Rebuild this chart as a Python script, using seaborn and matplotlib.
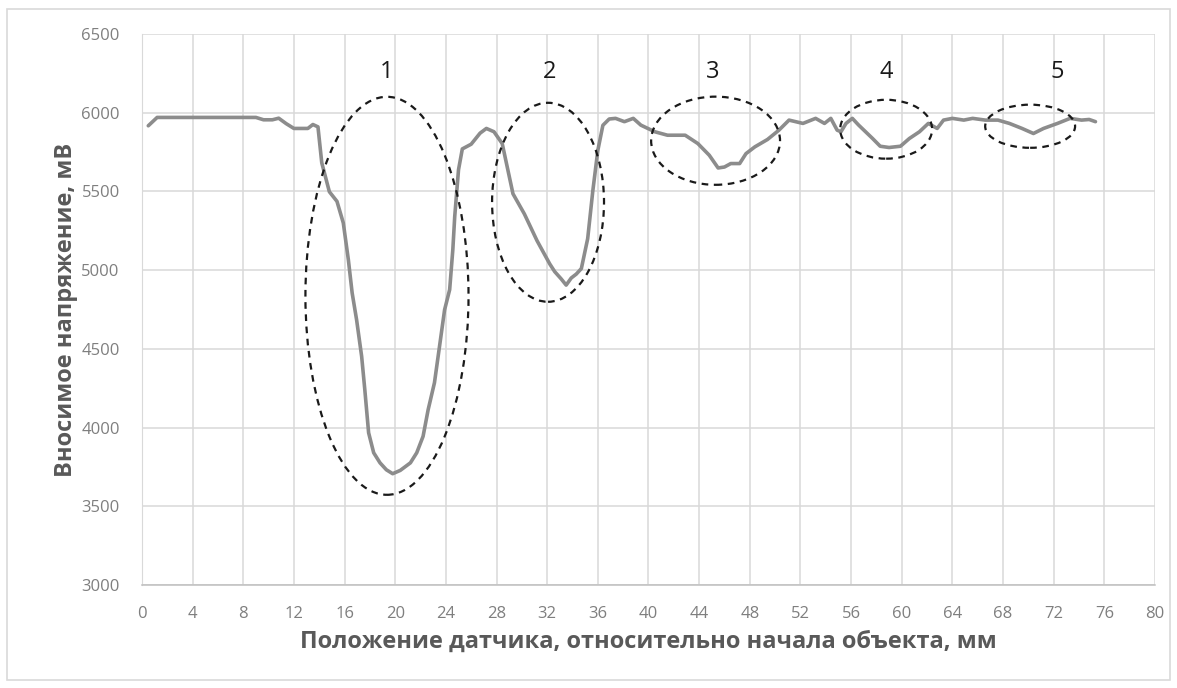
import numpy as np
import matplotlib
import seaborn as sns
import matplotlib.pyplot as plt
from matplotlib.patches import Ellipse, Rectangle
from matplotlib.ticker import MultipleLocator

matplotlib.use('Agg')

# положение датчика, мм
pos = [0.5, 1.2, 2, 4, 6, 8, 9.0, 9.6, 10.3, 10.8, 11.4, 12.0, 12.6, 13.1, 13.5,
       13.9, 14.2, 14.8, 15.4, 15.9, 16.3, 16.6, 16.95, 17.35, 17.6, 17.9, 18.3,
       18.8, 19.3, 19.8, 20.4, 21.2, 21.7, 22.2, 22.6, 23.1, 23.5, 23.9, 24.3,
       24.55, 24.7, 25.0, 25.3, 26.0, 26.7, 27.2, 27.8, 28.45, 29.3, 30.2, 31.2,
       32.2, 32.6, 33.1, 33.5, 33.9, 34.3, 34.7, 35.2, 35.6, 36.0, 36.4, 36.9,
       37.4, 38.1, 38.8, 39.4, 40.5, 41.5, 42.9, 43.9, 44.8, 45.5, 46.0, 46.5,
       47.2, 47.7, 48.4, 49.4, 50.3, 51.1, 52.2, 53.2, 53.9, 54.4, 54.9, 55.2,
       55.6, 56.1, 56.6, 57.7, 58.3, 59.0, 59.9, 60.6, 61.4, 62.1, 62.8, 63.3,
       64.0, 64.9, 65.6, 66.6, 67.6, 68.5, 69.5, 70.4, 71.2, 72.3, 73.3, 74.2,
       74.8, 75.3]
# вносимое напряжение, мВ
volt = [5917, 5970, 5970, 5970, 5970, 5970, 5970, 5955, 5955, 5965, 5930, 5900,
        5900, 5900, 5925, 5910, 5682, 5498, 5437, 5300, 5066, 4855, 4685, 4452,
        4240, 3967, 3840, 3776, 3732, 3707, 3728, 3776, 3840, 3944, 4113, 4285,
        4516, 4748, 4876, 5130, 5340, 5638, 5770, 5800, 5870, 5900, 5879, 5804,
        5485, 5357, 5187, 5040, 4990, 4945, 4905, 4950, 4975, 5010, 5200, 5500,
        5760, 5920, 5960, 5964, 5943, 5964, 5921, 5879, 5857, 5857, 5804, 5730,
        5649, 5655, 5677, 5677, 5740, 5783, 5830, 5889, 5953, 5932, 5964, 5932,
        5964, 5889, 5879, 5932, 5964, 5921, 5836, 5787, 5779, 5787, 5836, 5879,
        5932, 5900, 5953, 5964, 5953, 5964, 5953, 5953, 5932, 5900, 5868, 5900,
        5932, 5964, 5953, 5957, 5943]

# зоны дефектов: центр x, центр y, полуширина, полувысота
zone_x = [19.35, 32.07, 45.3, 58.77, 70.14]
zone_y = [4837, 5431, 5822, 5895, 5914]
zone_w = [6.44, 4.42, 5.09, 3.63, 3.55]
zone_h = [1264, 632, 280, 187, 137]
label_x = [19.35, 32.2, 45.1, 58.8, 72.3]
label_txt = ['1', '2', '3', '4', '5']

sns.set_style('white')
plt.rcParams['font.family'] = ['Open Sans', 'DejaVu Sans']

fig = plt.figure(figsize=(11.77, 6.88), dpi=100)
ax = fig.add_axes([0.1206, 0.1497, 0.8607, 0.8009])

sns.lineplot(x=pos, y=volt, ax=ax, color='#8c8c8c', linewidth=2.6, sort=False)

for cx, cy, w, h in zip(zone_x, zone_y, zone_w, zone_h):
    ax.add_patch(Ellipse((cx, cy), 2 * w, 2 * h, fill=False, edgecolor='#1a1a1a',
                         linestyle=(0, (3, 2.5)), linewidth=1.6, zorder=3))
for lx, t in zip(label_x, label_txt):
    ax.text(lx, 6260, t, ha='center', va='center', fontsize=17, color='#1a1a1a')

ax.set_xlim(0, 80)
ax.set_ylim(3000, 6500)
ax.xaxis.set_major_locator(MultipleLocator(4))
ax.xaxis.set_minor_locator(MultipleLocator(0.8))
ax.yaxis.set_major_locator(MultipleLocator(500))
ax.grid(True, which='major', color='#d9d9d9', linewidth=1.1)
ax.set_axisbelow(True)

for s in ['top', 'right']:
    ax.spines[s].set_visible(False)
ax.spines['left'].set_color('#d9d9d9')
ax.spines['bottom'].set_color('#bfbfbf')
ax.spines['bottom'].set_linewidth(1.1)

ax.tick_params(axis='x', which='major', direction='out', length=5, color='#bfbfbf',
               labelsize=12, labelcolor='#7f7f7f', pad=10)
ax.tick_params(axis='x', which='minor', direction='out', length=4, color='#bfbfbf')
ax.tick_params(axis='y', length=0, labelsize=12, labelcolor='#7f7f7f', pad=16)

ax.set_xlabel('Положение датчика, относительно начала объекта, мм', fontsize=17,
              fontweight='bold', color='#595959', labelpad=6)
ax.set_ylabel('Вносимое напряжение, мВ', fontsize=17, fontweight='bold',
              color='#595959', labelpad=2)

fig.patches.append(Rectangle((0.006, 0.012), 0.988, 0.975, transform=fig.transFigure,
                             fill=False, edgecolor='#d9d9d9', linewidth=1.2))

fig.savefig('out.png', dpi=100)
